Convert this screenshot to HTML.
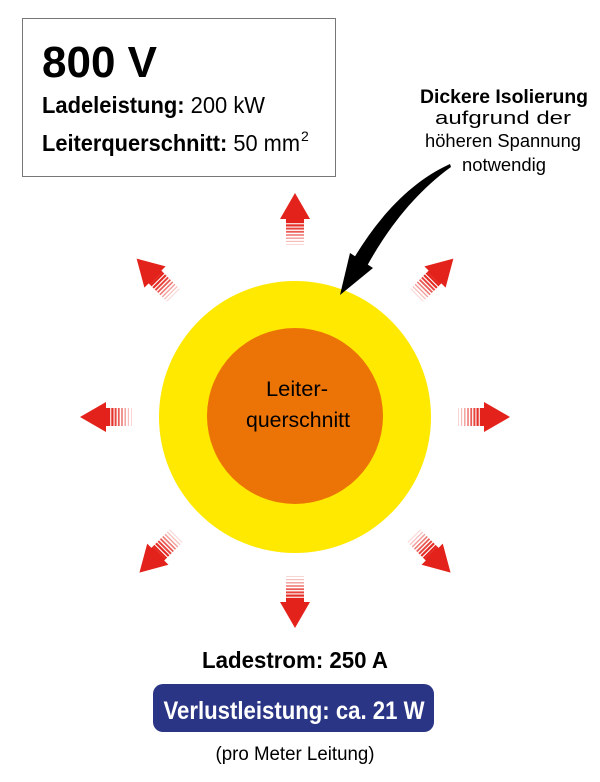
<!DOCTYPE html>
<html><head><meta charset="utf-8"><style>
html,body{margin:0;padding:0;background:#fff;}
svg{display:block;font-family:"Liberation Sans",sans-serif;}
</style></head><body>
<svg width="600" height="782" viewBox="0 0 600 782" xmlns="http://www.w3.org/2000/svg">
<defs>
<g id="arr">
  <polygon points="0,-28 -15,-2 -9,-2 -9,0 9,0 9,-2 15,-2" fill="#e3231b"/>
  <rect x="-9" y="0" width="18" height="2.2" fill="#e3231b"/>
  <rect x="-9" y="3.3" width="18" height="2.2" fill="#e3231b" opacity="0.95"/>
  <rect x="-9" y="6.6" width="18" height="2" fill="#e3231b" opacity="0.85"/>
  <rect x="-9" y="9.9" width="18" height="1.8" fill="#e3231b" opacity="0.75"/>
  <rect x="-9" y="13.2" width="18" height="1.6" fill="#e3231b" opacity="0.6"/>
  <rect x="-9" y="16.5" width="18" height="1.4" fill="#e3231b" opacity="0.45"/>
  <rect x="-9" y="19.8" width="18" height="1.2" fill="#e3231b" opacity="0.3"/>
  <rect x="-9" y="23" width="18" height="1" fill="#e3231b" opacity="0.18"/>
</g>
</defs>
<rect x="22.5" y="18.5" width="313" height="158" fill="#fff" stroke="#777" stroke-width="1"/>
<text x="42" y="77" font-size="44" font-weight="bold" textLength="115" lengthAdjust="spacingAndGlyphs">800 V</text>
<text x="42" y="113" font-size="23" textLength="223" lengthAdjust="spacingAndGlyphs"><tspan font-weight="bold">Ladeleistung:</tspan> 200 kW</text>
<text x="42" y="151" font-size="23" textLength="258" lengthAdjust="spacingAndGlyphs"><tspan font-weight="bold">Leiterquerschnitt:</tspan> 50 mm</text>
<text x="301" y="141" font-size="14">2</text>

<text x="504" y="103" font-size="19" font-weight="bold" text-anchor="middle" textLength="168" lengthAdjust="spacingAndGlyphs">Dickere Isolierung</text>
<text x="503" y="124" font-size="18" text-anchor="middle" textLength="136" lengthAdjust="spacingAndGlyphs">aufgrund der</text>
<text x="503" y="147" font-size="18" text-anchor="middle" textLength="156" lengthAdjust="spacingAndGlyphs">höheren Spannung</text>
<text x="504" y="171" font-size="18" text-anchor="middle" textLength="84" lengthAdjust="spacingAndGlyphs">notwendig</text>

<circle cx="295" cy="417" r="136" fill="#ffe900"/>
<circle cx="295" cy="416" r="88" fill="#ec7406"/>
<text x="297" y="396" font-size="21" text-anchor="middle" textLength="62" lengthAdjust="spacingAndGlyphs">Leiter-</text>
<text x="298" y="427" font-size="21" text-anchor="middle" textLength="104" lengthAdjust="spacingAndGlyphs">querschnitt</text>

<path d="M450,164 C410,182 378,218 354,258 L367,266 C388,228 416,192 451,167 Z" fill="#000"/>
<polygon points="340,295 350,253 373,268" fill="#000"/>

<g transform="translate(295,417)">
  <use href="#arr" transform="rotate(0) translate(0,-196)"/>
  <use href="#arr" transform="rotate(45) translate(0,-196)"/>
  <use href="#arr" transform="rotate(90) translate(0,-187)"/>
  <use href="#arr" transform="rotate(135) translate(0,-192)"/>
  <use href="#arr" transform="rotate(180) translate(0,-183)"/>
  <use href="#arr" transform="rotate(225) translate(0,-192)"/>
  <use href="#arr" transform="rotate(270) translate(0,-187)"/>
  <use href="#arr" transform="rotate(315) translate(0,-196)"/>
</g>

<text x="295" y="668" font-size="23" font-weight="bold" text-anchor="middle" textLength="186" lengthAdjust="spacingAndGlyphs">Ladestrom: 250 A</text>
<rect x="153" y="684" width="281" height="48" rx="10" fill="#2b3585"/>
<text x="294" y="719" font-size="25" font-weight="bold" fill="#fff" text-anchor="middle" textLength="261" lengthAdjust="spacingAndGlyphs">Verlustleistung: ca. 21 W</text>
<text x="295" y="760" font-size="19" text-anchor="middle" textLength="159" lengthAdjust="spacingAndGlyphs">(pro Meter Leitung)</text>
</svg>
</body></html>
